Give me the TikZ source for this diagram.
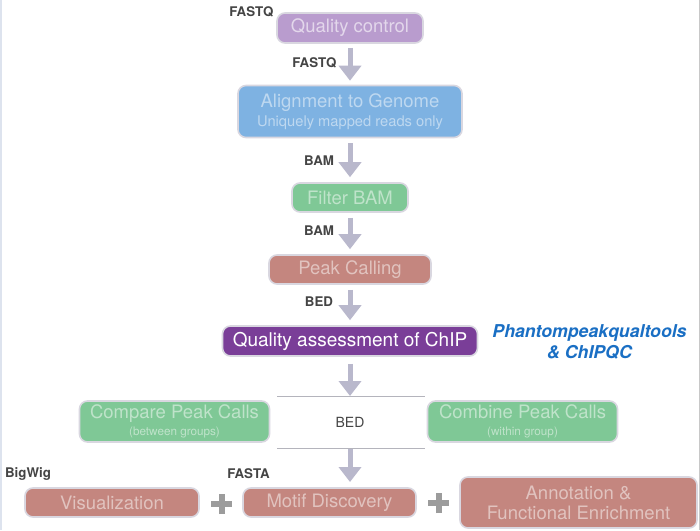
\documentclass[tikz,border=0pt]{standalone}
\usepackage{fontspec}
\setmainfont{TeX Gyre Heros}
\usetikzlibrary{arrows.meta}
\definecolor{qcfill}{HTML}{B99CCE}
\definecolor{alfill}{HTML}{7EB2E2}
\definecolor{grfill}{HTML}{7FC896}
\definecolor{safill}{HTML}{C4867F}
\definecolor{qafill}{HTML}{7A3E98}
\definecolor{boxline}{HTML}{D9D7E0}
\definecolor{arrowcol}{HTML}{B9B8CC}
\definecolor{labcol}{HTML}{444444}
\definecolor{toolcol}{HTML}{1A6FC4}
\definecolor{pluscol}{HTML}{9C9C9C}
\definecolor{sepcol}{HTML}{B4B4BC}
\definecolor{leftedge}{HTML}{DDE3EE}
\definecolor{rightedge}{HTML}{C8C8C8}
\tikzset{
  box/.style={draw=boxline, line width=1.6pt, rounded corners=8pt, inner sep=0pt, align=center,
    font=\fontsize{18.5}{20}\selectfont},
  qcbox/.style={box, fill=qcfill, text=white!60!qcfill},
  albox/.style={box, fill=alfill, text=white!50!alfill},
  grbox/.style={box, fill=grfill, text=white!50!grfill},
  sabox/.style={box, fill=safill, text=white!50!safill},
  qabox/.style={box, fill=qafill, text=white, font=\fontsize{19}{21}\selectfont},
  lab/.style={text=labcol, inner sep=0pt, font=\bfseries\fontsize{13.3}{15}\selectfont},
  flowarrow/.style={draw=arrowcol, line width=5pt, -{Triangle[width=22pt,length=15pt]},
    shorten <=5pt, shorten >=5pt},
  sepline/.style={draw=sepcol, line width=0.9pt},
  plusbar/.style={draw=pluscol, line width=6pt},
}
\begin{document}
\begin{tikzpicture}[x=1pt,y=-1pt]
\useasboundingbox (0,0) rectangle (700,530);
\fill[white] (0,0) rectangle (700,530);
\draw[leftedge, line width=1.2pt] (1,0) -- (1,530);
\draw[rightedge, line width=1pt] (699.3,0) -- (699.3,530);

% boxes
\node[qcbox, minimum width=146pt, minimum height=30pt] (qc) at (350,28) {Quality control};
\node[albox, minimum width=224pt, minimum height=52pt] (align) at (350,111.5)
  {Alignment to Genome\\[-1pt]{\fontsize{14.7}{16}\selectfont Uniquely mapped reads only}};
\node[grbox, minimum width=116pt, minimum height=29pt] (filter) at (350,197.5) {Filter BAM};
\node[sabox, minimum width=162pt, minimum height=29pt] (peak) at (350,269.5) {Peak Calling};
\node[qabox, minimum width=255pt, minimum height=30pt] (qa) at (350,341) {Quality assessment of ChIP};
\node[grbox, minimum width=190pt, minimum height=41pt] (compare) at (174.5,421.5)
  {Compare Peak Calls\\[-3pt]{\fontsize{11.7}{13}\selectfont (between groups)}};
\node[grbox, minimum width=190pt, minimum height=41pt] (combine) at (522.5,421.5)
  {Combine Peak Calls\\[-3pt]{\fontsize{11.7}{13}\selectfont (within group)}};
\node[sabox, minimum width=174pt, minimum height=29pt] (vis) at (112,502.5) {Visualization};
\node[sabox, minimum width=173pt, minimum height=29pt] (motif) at (329.5,502.5) {Motif Discovery};
\node[sabox, minimum width=237pt, minimum height=51pt] (annot) at (578.5,502.5)
  {Annotation \&\\[0pt]Functional Enrichment};

% labels
\node[lab] (l1) at (251.5,12) {FASTQ};
\node[lab] (l2) at (314.5,63) {FASTQ};
\node[lab] (l3) at (319,160.5) {BAM};
\node[lab] (l4) at (319,230.5) {BAM};
\node[lab] (l5) at (319,301.5) {BED};
\node[lab] (l6) at (28,474) {BigWig};
\node[lab] (l7) at (248.5,474) {FASTA};
\node[text=labcol, inner sep=0pt, font=\fontsize{14}{16}\selectfont] (bed) at (350,422) {BED};
\node[text=toolcol, inner sep=0pt, align=center, font=\bfseries\itshape\fontsize{17.7}{21}\selectfont]
  (tools) at (589.5,341.5) {Phantompeakqualtools\\\& ChIPQC};

% separator lines
\coordinate (sl1) at (277,396);
\coordinate (sr1) at (425,396);
\coordinate (sl2) at (277,448);
\coordinate (sr2) at (425,448);
\coordinate (stop) at (350,396);
\coordinate (sbot) at (350,448);
\coordinate (aend) at (350,482);
\draw[sepline] (sl1) -- (sr1);
\draw[sepline] (sl2) -- (sr2);

% arrows
\draw[flowarrow, shorten <=4pt, shorten >=4pt] (qc) -- (align);
\draw[flowarrow] (align) -- (filter);
\draw[flowarrow] (filter) -- (peak);
\draw[flowarrow] (peak) -- (qa);
\draw[flowarrow, shorten <=7pt, shorten >=0pt] (qa) -- (stop);
\draw[flowarrow, shorten <=1pt, shorten >=0pt] (sbot) -- (aend);

% plus signs
\coordinate (p1) at (221.5,504);
\coordinate (p2) at (438.5,503);
\draw[plusbar] ([xshift=-10.5pt]p1) -- ([xshift=10.5pt]p1);
\draw[plusbar] ([yshift=-10pt]p1) -- ([yshift=10pt]p1);
\draw[plusbar] ([xshift=-10.5pt]p2) -- ([xshift=10.5pt]p2);
\draw[plusbar] ([yshift=-10pt]p2) -- ([yshift=10pt]p2);
\end{tikzpicture}
\end{document}
